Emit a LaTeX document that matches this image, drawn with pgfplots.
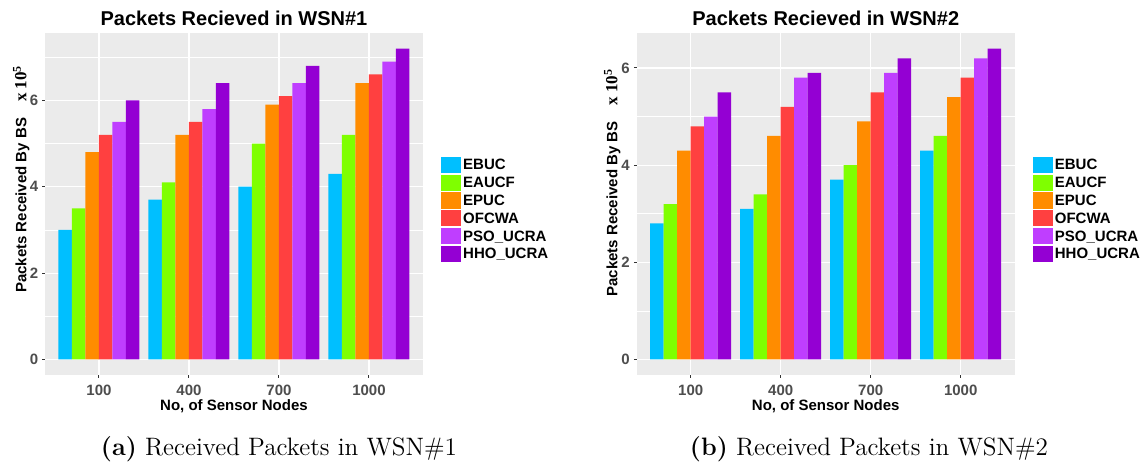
\documentclass[border=0pt]{standalone}
\usepackage{pgfplots}
\pgfplotsset{compat=1.18}
\usepackage{fontspec}
\newfontfamily\af{Liberation Sans}
\newfontfamily\tf{Liberation Serif}
\definecolor{ggbg}{HTML}{EBEBEB}
\definecolor{ticklab}{HTML}{4D4D4D}
\definecolor{tickc}{HTML}{333333}
\definecolor{cEBUC}{HTML}{00BFFF}
\definecolor{cEAUCF}{HTML}{7FFF00}
\definecolor{cEPUC}{HTML}{FF8C00}
\definecolor{cOFCWA}{HTML}{FF4040}
\definecolor{cPSO}{HTML}{BF3EFF}
\definecolor{cHHO}{HTML}{9400D3}
\pgfplotsset{
  sqlegend/.style={legend image code/.code={\fill[##1, draw=white, line width=0.3pt] (0pt,-4.3pt) rectangle (10.5pt,4.3pt);}},
  ggstyle/.style={
    scale only axis, width=189pt, height=171pt,
    xmin=0.4, xmax=4.6, xtick={1,2,3,4}, xticklabels={100,400,700,1000},
    axis background/.style={fill=ggbg},
    axis line style={draw=none},
    grid=both,
    major grid style={white, line width=0.6pt},
    minor grid style={white, line width=0.3pt},
    tick align=outside, tick pos=left,
    major tick length=1.4pt, minor tick length=0pt,
    tick style={color=tickc, line width=0.5pt},
    every tick label/.append style={font=\af\bfseries\fontsize{7.5}{8}\selectfont, text=ticklab},
    yticklabel style={xshift=1.5pt},
    /pgf/number format/assume math mode=true,
    ybar=0pt, bar width=0.15,
    every axis plot/.append style={draw=none, sqlegend},
    xlabel={No, of Sensor Nodes},
    xlabel style={font=\af\bfseries\fontsize{7.5}{9}\selectfont, at={(rel axis cs:0.5,0)}, anchor=base, yshift=-17.5pt},
    ylabel={Packets Received By BS\hspace{8pt}{\tf\fontsize{8.5}{9}\selectfont x 10\textsuperscript{5}}},
    ylabel style={font=\af\bfseries\fontsize{7.5}{9}\selectfont, anchor=base},
    legend style={at={(rel axis cs:1.045,0.642)}, anchor=north west, draw=none, fill=none,
      font=\af\bfseries\fontsize{7.5}{8}\selectfont, row sep=0pt, column sep=0.6pt, inner sep=0pt,
      nodes={inner sep=0pt, text depth=0pt}},
    legend cell align=left,
  }
}
\begin{document}
\begin{tikzpicture}
\path[use as bounding box] (0,0) rectangle (571pt,-231pt);
\begin{axis}[ggstyle, at={(22.5pt,-16.5pt)}, anchor=north west,
  ymin=-0.36, ymax=7.56, ytick={0,2,4,6}, minor ytick={1,3,5,7},
  ylabel style={at={(rel axis cs:-0.049,0.573)}}]
\addplot[fill=cEBUC] coordinates {(1,3.0) (2,3.7) (3,4.0) (4,4.3)};
\addplot[fill=cEAUCF] coordinates {(1,3.5) (2,4.1) (3,5.0) (4,5.2)};
\addplot[fill=cEPUC] coordinates {(1,4.8) (2,5.2) (3,5.9) (4,6.4)};
\addplot[fill=cOFCWA] coordinates {(1,5.2) (2,5.5) (3,6.1) (4,6.6)};
\addplot[fill=cPSO] coordinates {(1,5.5) (2,5.8) (3,6.4) (4,6.9)};
\addplot[fill=cHHO] coordinates {(1,6.0) (2,6.4) (3,6.8) (4,7.2)};
\legend{EBUC,EAUCF,EPUC,OFCWA,PSO\_UCRA,HHO\_UCRA}
\end{axis}
\begin{axis}[ggstyle, at={(318.35pt,-16.5pt)}, anchor=north west,
  ymin=-0.32, ymax=6.72, ytick={0,2,4,6}, minor ytick={1,3,5},
  ylabel style={at={(rel axis cs:-0.051,0.563)}}]
\addplot[fill=cEBUC] coordinates {(1,2.8) (2,3.1) (3,3.7) (4,4.3)};
\addplot[fill=cEAUCF] coordinates {(1,3.2) (2,3.4) (3,4.0) (4,4.6)};
\addplot[fill=cEPUC] coordinates {(1,4.3) (2,4.6) (3,4.9) (4,5.4)};
\addplot[fill=cOFCWA] coordinates {(1,4.8) (2,5.2) (3,5.5) (4,5.8)};
\addplot[fill=cPSO] coordinates {(1,5.0) (2,5.8) (3,5.9) (4,6.2)};
\addplot[fill=cHHO] coordinates {(1,5.5) (2,5.9) (3,6.2) (4,6.4)};
\legend{EBUC,EAUCF,EPUC,OFCWA,PSO\_UCRA,HHO\_UCRA}
\end{axis}
\node[anchor=base, font=\af\bfseries\fontsize{10}{12}\selectfont] at (117pt,-12.5pt) {Packets Recieved in WSN\#1};
\node[anchor=base, font=\af\bfseries\fontsize{10}{12}\selectfont] at (412.9pt,-12.5pt) {Packets Recieved in WSN\#2};
\node[anchor=base] at (139.5pt,-227.5pt) {\fontsize{12.6}{14}\selectfont\textbf{(a)} Received Packets in WSN\#1};
\node[anchor=base] at (434.5pt,-227.5pt) {\fontsize{12.6}{14}\selectfont\textbf{(b)} Received Packets in WSN\#2};
\end{tikzpicture}
\end{document}
